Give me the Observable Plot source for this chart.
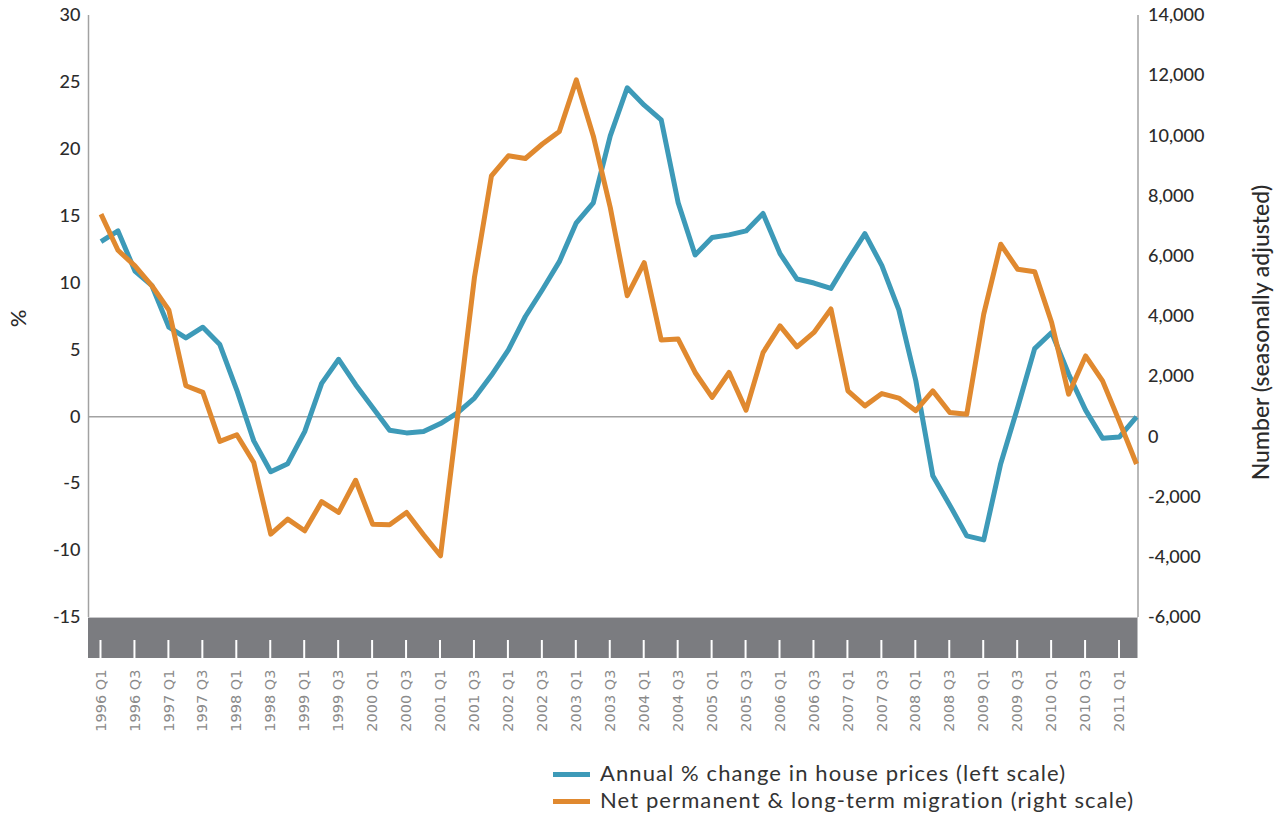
<!DOCTYPE html>
<html>
<head>
<meta charset="utf-8">
<script src="https://cdn.jsdelivr.net/npm/d3@7"></script>
<script src="https://cdn.jsdelivr.net/npm/@observablehq/plot@0.6"></script>
<style>
  html, body { margin: 0; padding: 0; background: #fff; }
  #chart { width: 1279px; }
  .legend { margin-left: 553px; padding-top: 14px; font-family: Lato, "Noto Sans", sans-serif; font-size: 22px; letter-spacing: 1.1px; color: #333; }
  .legend .row { height: 27px; line-height: 27px; white-space: nowrap; }
  .legend .sw { display: inline-block; width: 37px; height: 5px; vertical-align: middle; margin-right: 10px; position: relative; top: -1px; }
</style>
</head>
<body>
<div id="chart"></div>
<script>
// Quarter categories 1996 Q1 .. 2011 Q2
const quarters = [];
for (let yr = 1996; yr <= 2011; yr++) for (let q = 1; q <= 4; q++) quarters.push(yr + " Q" + q);
quarters.length = 62;

// Annual % change in house prices (left scale)
const housePrices = [
  13.1, 13.9, 10.9, 9.8, 6.7, 5.9, 6.7, 5.4, 2.0, -1.8,
  -4.1, -3.5, -1.1, 2.5, 4.3, 2.4, 0.7, -1.0, -1.2, -1.1,
  -0.5, 0.3, 1.4, 3.1, 5.0, 7.5, 9.5, 11.6, 14.5, 16.0,
  21.0, 24.6, 23.3, 22.2, 16.0, 12.1, 13.4, 13.6, 13.9, 15.2,
  12.2, 10.3, 10.0, 9.6, 11.7, 13.7, 11.3, 8.0, 2.7, -4.4,
  -6.6, -8.9, -9.2, -3.5, 0.7, 5.1, 6.3, 3.2, 0.5, -1.6,
  -1.5, 0.0
];

// Net permanent & long-term migration (right scale)
const migration = [
  7400, 6200, 5680, 5020, 4210, 1700, 1480, -150, 70, -850,
  -3230, -2730, -3120, -2150, -2510, -1440, -2900, -2920, -2510, -3250,
  -3950, 650, 5300, 8670, 9340, 9250, 9730, 10150, 11860, 10000,
  7620, 4690, 5790, 3220, 3250, 2140, 1310, 2140, 890, 2800,
  3690, 2990, 3470, 4250, 1530, 1030, 1440, 1290, 870, 1530,
  810, 750, 4080, 6400, 5570, 5490, 3800, 1420, 2690, 1860,
  500, -900
];

// Tick labels (every second quarter)
const tickLabels = [
  "1996 Q1","1996 Q3","1997 Q1","1997 Q3","1998 Q1","1998 Q3","1999 Q1","1999 Q3",
  "2000 Q1","2000 Q3","2001 Q1","2001 Q3","2002 Q1","2002 Q3","2003 Q1","2003 Q3",
  "2004 Q1","2004 Q3","2005 Q1","2005 Q3","2006 Q1","2006 Q3","2007 Q1","2007 Q3",
  "2008 Q1","2008 Q3","2009 Q1","2009 Q3","2010 Q1","2010 Q3","2011 Q1"
];
const leftTicks = [-15, -10, -5, 0, 5, 10, 15, 20, 25, 30];
const rightTicks = [-6000, -4000, -2000, 0, 2000, 4000, 6000, 8000, 10000, 12000, 14000];

const leftDomain = [-15, 30];
const rightDomain = [-6000, 14000];
const toLeft = v => leftDomain[0] + (v - rightDomain[0]) * (leftDomain[1] - leftDomain[0]) / (rightDomain[1] - rightDomain[0]);
const fromLeft = d => rightDomain[0] + (d - leftDomain[0]) * (rightDomain[1] - rightDomain[0]) / (leftDomain[1] - leftDomain[0]);

const tickIdx = tickLabels.map(l => quarters.indexOf(l));
const data = quarters.map((q, i) => ({i, q, hp: housePrices[i], mig: migration[i]}));

const BLUE = "#3d9ab8";
const ORANGE = "#e0892f";
const AXIS = "#a2a2a2";

const band = (index, scales, values, dims) => {
  const g = d3.create("svg:g");
  const y0 = dims.height - dims.marginBottom;
  g.append("rect")
    .attr("x", dims.marginLeft).attr("y", y0)
    .attr("width", dims.width - dims.marginLeft - dims.marginRight)
    .attr("height", 41).attr("fill", "#7b7c80");
  g.append("line")
    .attr("x1", dims.marginLeft).attr("x2", dims.width - dims.marginRight)
    .attr("y1", y0 + 0.5).attr("y2", y0 + 0.5)
    .attr("stroke", "#c8c8ca").attr("stroke-width", 1);
  for (const i of tickIdx) {
    g.append("line")
      .attr("x1", scales.x(i)).attr("x2", scales.x(i))
      .attr("y1", y0 + 23).attr("y2", y0 + 41)
      .attr("stroke", "#fff").attr("stroke-width", 2);
  }
  return g.node();
};

const plot = Plot.plot({
  width: 1279,
  height: 745,
  marginLeft: 88,
  marginRight: 141.5,
  marginTop: 15,
  marginBottom: 128,
  style: { fontFamily: "Lato, 'Noto Sans', sans-serif", color: "#2b2b2b", background: "#fff" },
  x: { domain: [-0.736, 61.088], axis: null },
  y: { domain: leftDomain, axis: null },
  marks: [
    band,
    Plot.ruleY([0], { stroke: AXIS, strokeWidth: 1.5 }),
    Plot.ruleX([-0.736], { y1: -15, y2: 30, stroke: AXIS, strokeWidth: 1.5 }),
    Plot.ruleX([61.088], { y1: -15, y2: 30, stroke: AXIS, strokeWidth: 1.5 }),
    Plot.axisY(leftTicks, { anchor: "left", tickSize: 0, tickPadding: 8, fontSize: 18, fontWeight: 500, label: null, tickFormat: d => d.toLocaleString("en-US") }),
    Plot.axisY(rightTicks.map(toLeft), { anchor: "right", tickSize: 0, tickPadding: 10, fontSize: 18, fontWeight: 500, label: null, tickFormat: d => Math.round(fromLeft(d)).toLocaleString("en-US") }),
    Plot.text(tickIdx, {
      x: d => d, frameAnchor: "bottom", dy: 52, rotate: -90,
      text: (d, k) => tickLabels[k], textAnchor: "end", lineAnchor: "middle",
      fill: "#8a8a8a", fontSize: 14.5, fontFamily: "'DejaVu Sans', sans-serif"
    }),
    Plot.text(["%"], { frameAnchor: "left", dx: -70, dy: 2, rotate: -90, textAnchor: "middle", fontSize: 22, fontWeight: 500, fill: "#2b2b2b" }),
    Plot.text(["Number (seasonally adjusted)"], { frameAnchor: "right", dx: 124, dy: 16, rotate: -90, textAnchor: "middle", fontSize: 23, fontWeight: 500, fill: "#2b2b2b", style: "letter-spacing:1.2px" }),
    Plot.line(data, { x: "i", y: "hp", stroke: BLUE, strokeWidth: 5, strokeLinejoin: "round", strokeLinecap: "butt" }),
    Plot.line(data, { x: "i", y: d => toLeft(d.mig), stroke: ORANGE, strokeWidth: 5, strokeLinejoin: "round", strokeLinecap: "butt" })
  ]
});
document.getElementById("chart").appendChild(plot);

const legend = document.createElement("div");
legend.className = "legend";
legend.innerHTML =
  `<div class="row"><span class="sw" style="background:${BLUE}"></span>Annual % change in house prices (left scale)</div>` +
  `<div class="row"><span class="sw" style="background:${ORANGE}"></span>Net permanent &amp; long-term migration (right scale)</div>`;
document.getElementById("chart").appendChild(legend);
</script>
</body>
</html>
